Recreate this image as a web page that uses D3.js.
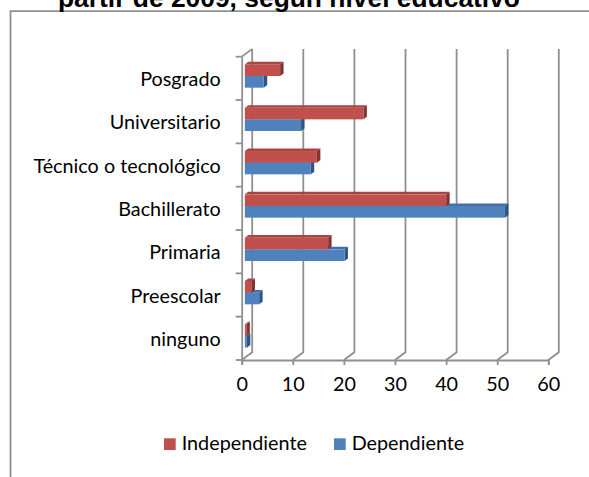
<!DOCTYPE html>
<html>
<head>
<meta charset="utf-8">
<script src="https://cdn.jsdelivr.net/npm/d3@7"></script>
<style>
  html, body { margin: 0; padding: 0; background: white; }
</style>
</head>
<body>
<div id="chart"></div>
<script>
const categories = [
  "Posgrado",
  "Universitario",
  "Técnico o tecnológico",
  "Bachillerato",
  "Primaria",
  "Preescolar",
  "ninguno",
];
const seriesNames = ["Independiente", "Dependiente"];
const independiente = [6.9, 23.2, 14.1, 39.4, 16.3, 1.3, 0.3];
const dependiente = [3.7, 11.0, 12.9, 50.9, 19.5, 2.8, 0.4];
const xTicks = [0, 10, 20, 30, 40, 50, 60];
const titleText = "partir de 2009, según nivel educativo";

const width = 589;
const height = 477;
const labelFont = "Lato, 'Open Sans', sans-serif";
const labelSize = "19.8px";

// face colours: front, top, side
const colors = {
  Independiente: ["#c0504d", "#a94441", "#843230"],
  Dependiente: ["#4f81bd", "#4070a8", "#2f5683"],
};

// 3d depth of the plot box
const depth = { dx: 10.5, dy: -7.8 };
// bars sit between these fractions of the depth
const barDepth = [0.3, 0.63];

const svg = d3
  .select("#chart")
  .append("svg")
  .attr("width", width)
  .attr("height", height)
  .attr("viewBox", [0, 0, width, height])
  .style("background-color", "white");

const xScale = d3.scaleLinear().domain([0, 60]).range([241.7, 548.3]);
const yScale = d3.scaleBand().domain(categories).range([56.7, 360]);
const inner = d3
  .scaleBand()
  .domain(seriesNames)
  .range([0, yScale.bandwidth()])
  .paddingOuter(0.86);

const rows = categories.map((c, i) => ({
  category: c,
  Independiente: independiente[i],
  Dependiente: dependiente[i],
}));

const grey = "#8f8f8f";

// chart frame (only the top and left edges are in view)
svg
  .append("path")
  .attr("d", `M10.5,${height}V11.2H${width}`)
  .attr("fill", "none")
  .attr("stroke", grey)
  .attr("stroke-width", 1.8);

// title, mostly cut off at the top
svg
  .append("text")
  .attr("x", 289)
  .attr("y", 6.5)
  .attr("text-anchor", "middle")
  .style("font-family", "'Liberation Sans', Arial, sans-serif")
  .style("font-weight", "bold")
  .style("font-size", "26.4px")
  .text(titleText);

const [y0, y1] = yScale.range();

// back wall gridlines + floor diagonals
const grid = svg.append("g").attr("stroke", grey).attr("stroke-width", 1.8).attr("fill", "none");
grid
  .selectAll("path")
  .data(xTicks)
  .join("path")
  .attr(
    "d",
    (d) =>
      `M${xScale(d)},${y1}L${xScale(d) + depth.dx},${y1 + depth.dy}V${y0 + depth.dy}`
  );

// left wall top edge
grid
  .append("path")
  .attr("d", `M${xScale(0)},${y0}L${xScale(0) + depth.dx},${y0 + depth.dy}`);

// bars
const dOff = barDepth[0];
const dLen = barDepth[1] - barDepth[0];
const bars = svg.append("g");
const drawOrder = ["Dependiente", "Independiente"];

rows.forEach((row) => {
  drawOrder.forEach((s) => {
    const v = row[s];
    const x0 = xScale(0) + dOff * depth.dx;
    const x1 = xScale(v) + dOff * depth.dx;
    const top = yScale(row.category) + inner(s) + dOff * depth.dy;
    const h = inner.bandwidth();
    const ex = dLen * depth.dx;
    const ey = dLen * depth.dy;
    const [front, topC, side] = colors[s];
    const g = bars.append("g");
    g.append("path")
      .attr("d", `M${x0},${top}L${x1},${top}L${x1 + ex},${top + ey}L${x0 + ex},${top + ey}Z`)
      .attr("fill", topC);
    g.append("path")
      .attr("d", `M${x1},${top}L${x1 + ex},${top + ey}L${x1 + ex},${top + ey + h}L${x1},${top + h}Z`)
      .attr("fill", side);
    g.append("rect")
      .attr("x", x0)
      .attr("y", top)
      .attr("width", x1 - x0)
      .attr("height", h)
      .attr("fill", front);
  });
});

// x axis (front edge of the floor)
const gx = svg
  .append("g")
  .attr("transform", `translate(0, ${y1})`)
  .call(d3.axisBottom(xScale).tickValues(xTicks).tickSize(5).tickPadding(12));
gx.selectAll("path, line").attr("stroke", grey).attr("stroke-width", 1.8);
gx.selectAll("text")
  .attr("fill", "#000")
  .style("font-family", labelFont)
  .style("font-size", labelSize);

// y axis (category axis, front edge of left wall)
const gy = svg
  .append("g")
  .attr("transform", `translate(${xScale(0)}, 0)`)
  .call(d3.axisLeft(yScale).tickSize(0).tickPadding(21));
gy.select(".domain").attr("stroke", grey).attr("stroke-width", 1.8);
gy.selectAll("text")
  .attr("fill", "#000")
  .attr("dy", "0.38em")
  .style("font-family", labelFont)
  .style("font-size", labelSize);

// ticks between categories
gy.selectAll(".sep")
  .data(d3.range(categories.length + 1))
  .join("line")
  .attr("class", "sep")
  .attr("x1", -6)
  .attr("x2", 0)
  .attr("y1", (i) => y0 + i * yScale.step())
  .attr("y2", (i) => y0 + i * yScale.step())
  .attr("stroke", grey)
  .attr("stroke-width", 1.8);

// legend
const legend = svg.append("g").attr("transform", "translate(164, 438.3)");
const legendX = [0, 170];
seriesNames.forEach((s, i) => {
  const item = legend.append("g").attr("transform", `translate(${legendX[i]}, 0)`);
  item
    .append("rect")
    .attr("width", 11.7)
    .attr("height", 11.7)
    .attr("fill", colors[s][0]);
  item
    .append("text")
    .attr("x", 17.7)
    .attr("y", 11.7)
    .style("font-family", labelFont)
    .style("font-size", labelSize)
    .text(s);
});
</script>
</body>
</html>
